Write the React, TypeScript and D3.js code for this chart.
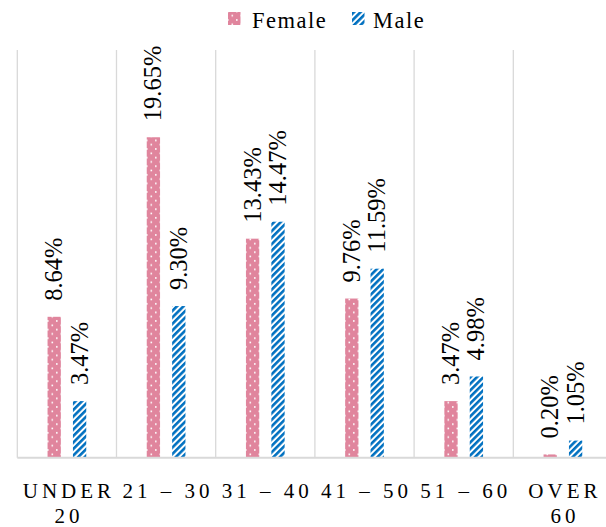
import React from "react";
import * as d3 from "d3";

const categories = ["UNDER 20", "21 – 30", "31 – 40", "41 – 50", "51 – 60", "OVER 60"];
const tickLines = [["UNDER", "20"], ["21 – 30"], ["31 – 40"], ["41 – 50"], ["51 – 60"], ["OVER", "60"]];
const series = ["Female", "Male"];
const female = [8.64, 19.65, 13.43, 9.76, 3.47, 0.2];
const male = [3.47, 9.3, 14.47, 11.59, 4.98, 1.05];

const W = 606;
const H = 527;
const FONT = "Liberation Serif, Times New Roman, serif";

export default function App() {
  const x0 = d3.scaleBand<string>().domain(categories).range([17.3, 17.3 + 99.2 * 6]).padding(0);
  const x1 = d3.scaleBand<string>().domain(series).range([-19.35, 19.35]).paddingInner(0.476).paddingOuter(0);
  const y = d3.scaleLinear().domain([0, 25]).range([457.7, 50]);
  const values: Record<string, number[]> = { Female: female, Male: male };
  const fills: Record<string, string> = { Female: "url(#dots)", Male: "url(#stripes)" };

  return (
    <svg width={W} height={H} style={{ position: "absolute", left: 0, top: 0, background: "#fff", fontFamily: FONT }}>
      <defs>
        <pattern id="dots" patternUnits="userSpaceOnUse" width={9} height={8.6}>
          <rect width={9} height={8.6} fill="#E0859D" />
          <rect x={2} y={2} width={1.6} height={1.6} fill="#fff" />
          <rect x={6.5} y={6.3} width={1.6} height={1.6} fill="#fff" />
        </pattern>
        <pattern id="stripes" patternUnits="userSpaceOnUse" width={4.6} height={4.6} patternTransform="rotate(45)">
          <rect width={4.6} height={4.6} fill="#fff" />
          <rect width={2.6} height={4.6} fill="#0070C0" />
        </pattern>
      </defs>
      {d3.range(categories.length + 1).map((i) => {
        const xx = 17.3 + x0.step() * i;
        return <line key={i} x1={xx} x2={xx} y1={y(25)} y2={y(0)} stroke="#d9d9d9" strokeWidth={1.3} />;
      })}
      {categories.map((c, ci) =>
        series.map((s) => {
          const cx = x0(c)! + x0.bandwidth() / 2;
          const bx = cx + x1(s)!;
          const v = values[s][ci];
          return (
            <rect key={c + s} x={bx} y={y(v)} width={x1.bandwidth()} height={y(0) - y(v)} fill={fills[s]} />
          );
        })
      )}
      <line x1={17.3} x2={W} y1={y(0)} y2={y(0)} stroke="#d9d9d9" strokeWidth={2} />
      {categories.map((c, ci) =>
        series.map((s) => {
          const cx = x0(c)! + x0.bandwidth() / 2;
          const bc = cx + x1(s)! + x1.bandwidth() / 2;
          const v = values[s][ci];
          const tx = bc + 8;
          const ty = y(v) - 16;
          return (
            <text
              key={"l" + c + s}
              transform={`translate(${tx},${ty}) rotate(-90)`}
              style={{ fontFamily: FONT, fontSize: 24.5 }}
              fill="#000"
            >
              {v.toFixed(2) + "%"}
            </text>
          );
        })
      )}
      {categories.map((c, ci) => {
        const cx = x0(c)! + x0.bandwidth() / 2 + 2;
        return (
          <text key={"t" + c} x={cx} y={497.7} style={{ fontFamily: FONT, fontSize: 21, letterSpacing: 4 }} textAnchor="middle" fill="#000">
            {tickLines[ci].map((ln, li) => (
              <tspan key={li} x={cx} y={497.7 + li * 25}>
                {ln}
              </tspan>
            ))}
          </text>
        );
      })}
      <rect x={228} y={12} width={12.5} height={13} fill="url(#dots)" />
      <text x={252} y={28.3} style={{ fontFamily: FONT, fontSize: 22.5, letterSpacing: 1.5 }} fill="#000">
        Female
      </text>
      <rect x={352} y={12} width={12.5} height={13} fill="url(#stripes)" />
      <text x={373} y={28.3} style={{ fontFamily: FONT, fontSize: 22.5, letterSpacing: 1.5 }} fill="#000">
        Male
      </text>
    </svg>
  );
}
